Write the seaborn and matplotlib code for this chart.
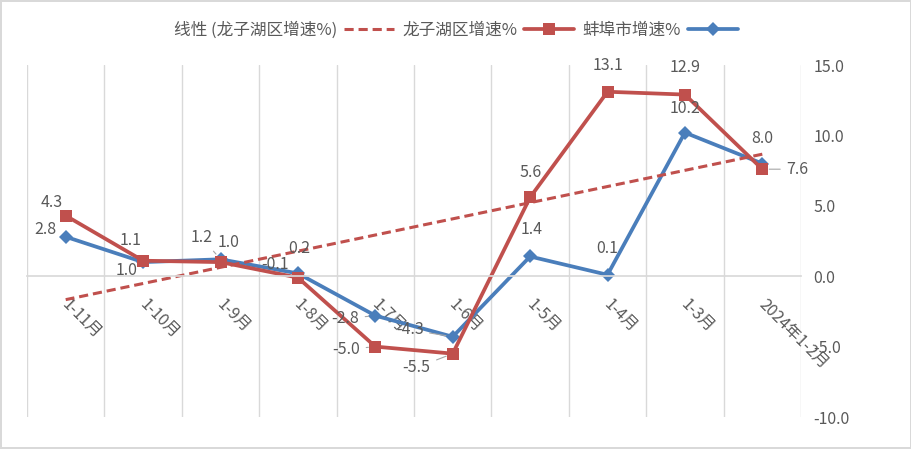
import numpy as np
import pandas as pd
import matplotlib
matplotlib.use("Agg")
import matplotlib.pyplot as plt
import matplotlib.transforms as mtransforms
import seaborn as sns

# data (original chart order; the reference is drawn mirrored)
months = ["2024年1-2月", "1-3月", "1-4月", "1-5月", "1-6月",
          "1-7月", "1-8月", "1-9月", "1-10月", "1-11月"]
bengbu = [8.0, 10.2, 0.1, 1.4, -4.3, -2.8, 0.2, 1.2, 1.0, 2.8]
longzihu = [7.6, 12.9, 13.1, 5.6, -5.5, -5.0, -0.1, 1.0, 1.1, 4.3]
yticks = [-10, -5, 0, 5, 10, 15]

# label offsets in pixels (dx, dy), and whether a leader line is drawn
blue_off = [(0, 25), (0, 24), (0, 26), (2, 27), (-43, 7),
            (-30, -3), (1, 25), (-19, 22), (-17, -8), (-20, 7)]
blue_lead = [False, False, False, False, True, True, False, True, False, False]
red_off = [(35, 0), (0, 27), (0, 26), (1, 25), (-36, -14),
           (-29, -3), (-23, 13), (8, 20), (-13, 20), (-14, 13)]
red_lead = [True, False, False, False, True, True, False, False, False, False]

BLUE = "#4A7EBB"
RED = "#C0504D"
GRID = "#D9D9D9"
TXT = "#595959"

sns.set_theme(style="white")
plt.rcParams["font.family"] = ["Noto Sans CJK SC", "DejaVu Sans"]

df = pd.DataFrame({"月份": months, "蚌埠市增速%": bengbu, "龙子湖区增速%": longzihu})
pos = np.arange(len(months))

fig = plt.figure(figsize=(9.12, 4.49), dpi=100, edgecolor=GRID, linewidth=1.5)
ax = fig.add_axes([27 / 912, 1 - 417 / 449, (801 - 27) / 912, (417 - 65) / 449])

sns.lineplot(data=df, x="月份", y="蚌埠市增速%", ax=ax, color=BLUE, lw=2.7,
             marker="D", markersize=7.5, markeredgewidth=0, label="蚌埠市增速%",
             sort=False)
sns.lineplot(data=df, x="月份", y="龙子湖区增速%", ax=ax, color=RED, lw=2.7,
             marker="s", markersize=9, markeredgewidth=0, label="龙子湖区增速%",
             sort=False)

# linear trendline of 龙子湖区
k, b = np.polyfit(pos, longzihu, 1)
sns.lineplot(x=pos, y=k * pos + b, ax=ax, color=RED, lw=2.2,
             linestyle=(0, (3, 1.6)), label="线性 (龙子湖区增速%)")

# data labels
for vals, offs, leads in ((bengbu, blue_off, blue_lead), (longzihu, red_off, red_lead)):
    for i, (v, (dx, dy), lead) in enumerate(zip(vals, offs, leads)):
        ax.annotate(f"{v:.1f}", (i, v), xytext=(dx, dy), textcoords="offset pixels",
                    ha="center", va="center", fontsize=11.5, color=TXT,
                    arrowprops=dict(arrowstyle="-", color="#A6A6A6", lw=0.8,
                                    shrinkA=2, shrinkB=5) if lead else None)

# mirrored layout: categories run right-to-left, value axis on the right
ax.set_xlim(len(months) - 0.5, -0.5)
ax.set_ylim(-10, 15)
ax.set_yticks(yticks)
ax.set_yticklabels([f"{t:.1f}" for t in yticks])
ax.yaxis.tick_right()
ax.set_xlabel("")
ax.set_ylabel("")

ax.set_xticks(pos)
ax.set_xticks(np.arange(len(months) + 1) - 0.5, minor=True)
ax.grid(which="minor", axis="x", color=GRID, lw=1)
ax.grid(which="major", visible=False)
for s in ("top", "left", "right"):
    ax.spines[s].set_visible(False)
ax.spines["bottom"].set_position(("data", 0))
ax.spines["bottom"].set_color(GRID)
ax.tick_params(axis="both", which="both", length=0, colors=TXT, labelsize=11.5)
ax.tick_params(axis="y", pad=9)
ax.tick_params(axis="x", pad=10)
shift = mtransforms.ScaledTranslation(5 / 100, -6 / 100, fig.dpi_scale_trans)
for lbl in ax.get_xticklabels():
    lbl.set_rotation(-45)
    lbl.set_ha("left")
    lbl.set_va("top")
    lbl.set_rotation_mode("anchor")
    lbl.set_transform(lbl.get_transform() + shift)

# legend, mirrored order with handles after the text
h, l = ax.get_legend_handles_labels()
ax.legend(h[::-1], l[::-1], loc="center", bbox_to_anchor=(0.5, 1 - 30 / 449),
          bbox_transform=fig.transFigure, ncol=3, frameon=False, markerfirst=False,
          fontsize=12, labelcolor=TXT, handlelength=3.0, columnspacing=0.5,
          handletextpad=0.4)

fig.savefig("out.png", dpi=100, facecolor="white", edgecolor=fig.get_edgecolor())
